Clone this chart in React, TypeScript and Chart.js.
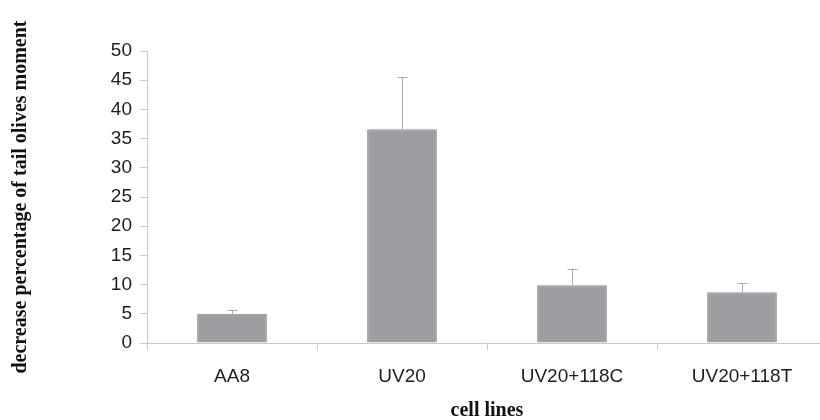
import React, { useEffect, useRef } from "react";
import { Chart, registerables } from "chart.js";

Chart.register(...registerables);

const categories = ["AA8", "UV20", "UV20+118C", "UV20+118T"];
const values = [5.0, 36.6, 9.9, 8.7];
const errors = [0.64, 9.0, 2.7, 1.65];
const yTicks = [0, 5, 10, 15, 20, 25, 30, 35, 40, 45, 50];
const yTitle = "decrease percentage of tail olives moment";
const xTitle = "cell lines";

const errorBarPlugin = {
  id: "errorBars",
  afterDatasetsDraw(chart: any) {
    const meta = chart.getDatasetMeta(0);
    const yScale = chart.scales.y;
    const ctx = chart.ctx;
    ctx.save();
    ctx.strokeStyle = "#a9a9a9";
    ctx.lineWidth = 1;
    meta.data.forEach((bar: any, i: number) => {
      const x = Math.round(bar.x) + 0.5;
      const yTop = yScale.getPixelForValue(values[i] + errors[i]);
      const yBase = yScale.getPixelForValue(values[i]);
      ctx.beginPath();
      ctx.moveTo(x, yBase);
      ctx.lineTo(x, Math.round(yTop) + 0.5);
      ctx.moveTo(x - 5, Math.round(yTop) + 0.5);
      ctx.lineTo(x + 5, Math.round(yTop) + 0.5);
      ctx.stroke();
    });
    ctx.restore();
  },
};

export default function App() {
  const ref = useRef<HTMLCanvasElement>(null);
  useEffect(() => {
    document.body.style.margin = "0";
    document.body.style.overflow = "hidden";
    const chart = new Chart(ref.current!, {
      type: "bar",
      data: {
        labels: categories,
        datasets: [
          {
            data: values,
            backgroundColor: "#9d9ea2",
            borderColor: "#8c8d91",
            borderWidth: 1,
            barPercentage: 0.41,
            categoryPercentage: 1,
          },
        ],
      },
      options: {
        animation: false,
        responsive: false,
        layout: { padding: { top: 51, right: 3, left: 0, bottom: 0 } },
        plugins: { legend: { display: false }, tooltip: { enabled: false } },
        scales: {
          x: {
            afterFit(scale: any) {
              scale.height = 81;
            },
            grid: {
              display: true,
              offset: true,
              drawOnChartArea: false,
              tickLength: 7,
              color: "#c8c8c8",
            },
            border: { color: "#c8c8c8" },
            ticks: {
              padding: 15,
              color: "#1e1e1e",
              font: { family: "Liberation Sans, Arial", size: 19 },
            },
            title: {
              display: true,
              text: xTitle,
              color: "#111",
              padding: { top: 0, bottom: 1 },
              font: { family: "Liberation Serif, Times New Roman", size: 20, weight: "bold" },
            },
          },
          y: {
            min: 0,
            max: 50,
            afterFit(scale: any) {
              scale.width = 147;
            },
            afterBuildTicks(scale: any) {
              scale.ticks = yTicks.map((v) => ({ value: v }));
            },
            grid: {
              display: true,
              drawOnChartArea: false,
              tickLength: 7,
              color: "#c8c8c8",
            },
            border: { color: "#c8c8c8" },
            ticks: {
              padding: 8,
              color: "#1e1e1e",
              font: { family: "Liberation Sans, Arial", size: 19 },
            },
            title: {
              display: true,
              text: yTitle,
              color: "#111",
              padding: { top: 9, bottom: 0 },
              font: { family: "Liberation Serif, Times New Roman", size: 20, weight: "bold" },
            },
          },
        },
      },
      plugins: [errorBarPlugin],
    });
    return () => chart.destroy();
  }, []);
  return (
    <div style={{ width: 820, height: 420, overflow: "hidden", background: "#fff" }}>
      <canvas ref={ref} width={830} height={424} style={{ display: "block" }} />
    </div>
  );
}
